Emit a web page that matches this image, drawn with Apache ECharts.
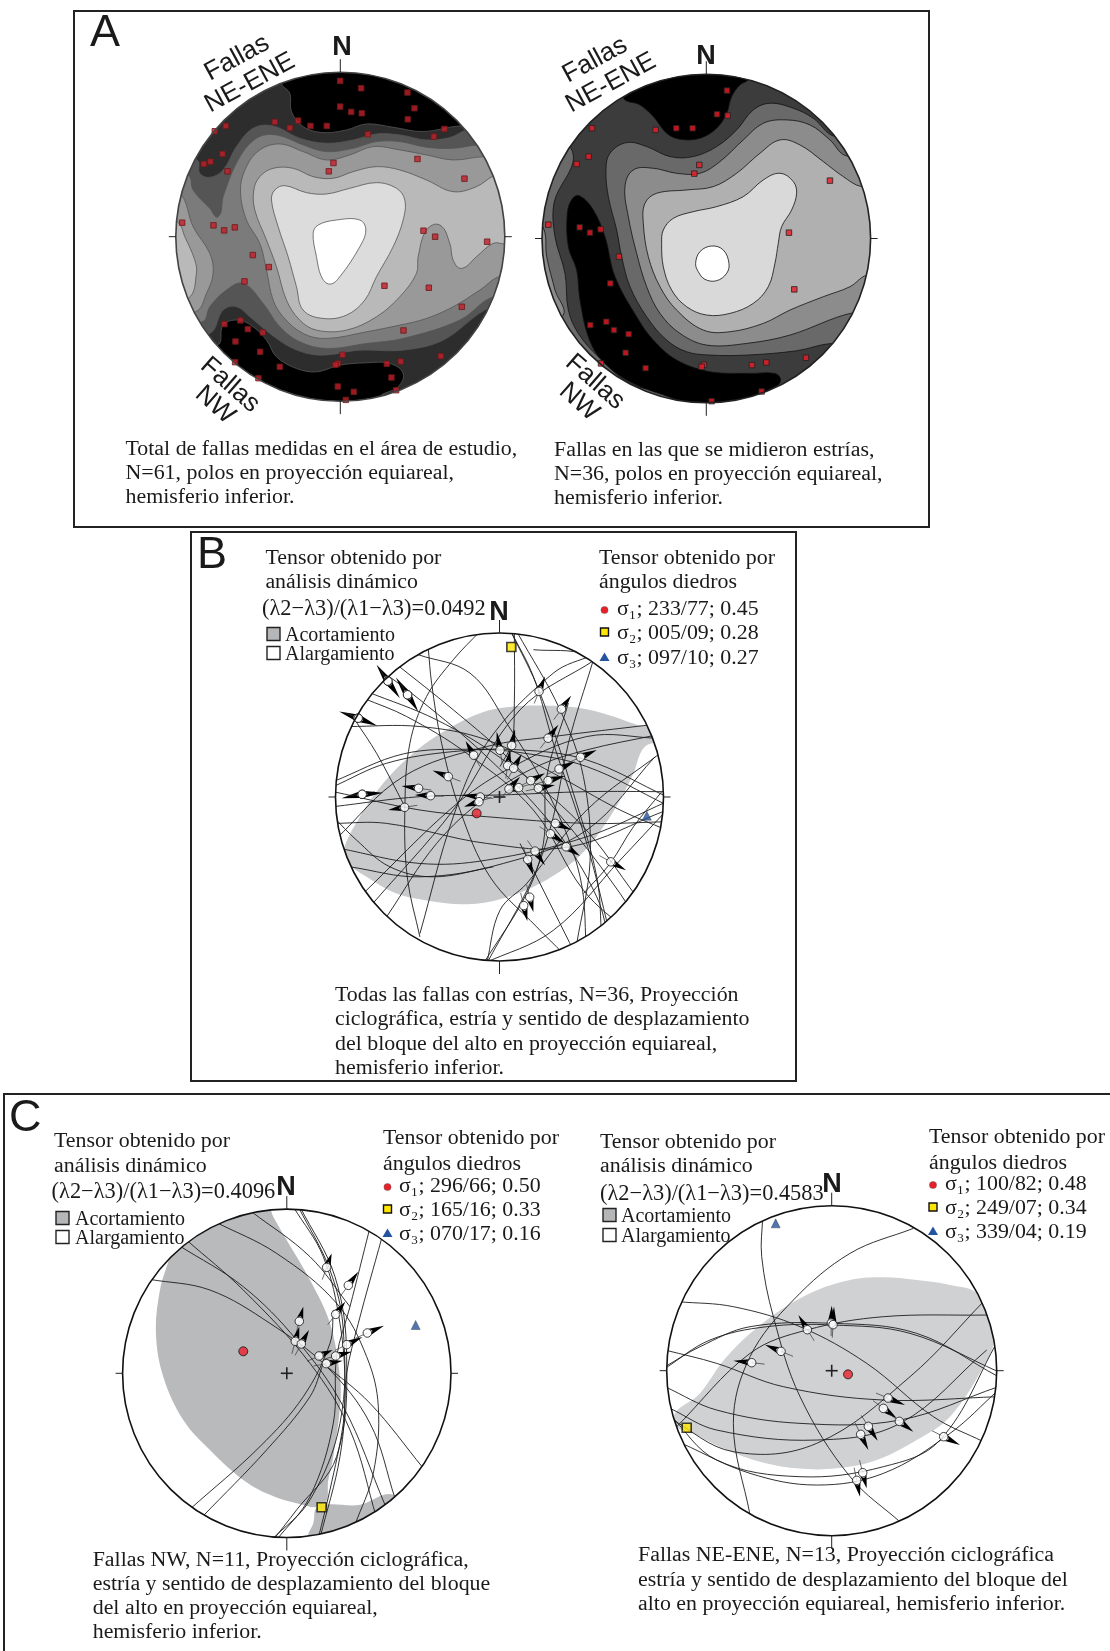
<!DOCTYPE html>
<html>
<head>
<meta charset="utf-8">
<style>html,body{margin:0;padding:0;background:#fff}#chart{width:1110px;height:1651px}</style>
<script src="https://cdn.jsdelivr.net/npm/echarts@6/dist/echarts.min.js"></script>
</head>
<body>
<div id="chart"></div>
<script>

// ---- net A1, total de fallas
const a1Black = '#000000'
const a1Bands = [
  ['#2d2d2d', [[365,130],[390,160],[395,215],[430,260],[490,278],[560,270],[620,252],[700,262],[790,275],[900,258],[1100,258],[1100,1000],[800,1150],[665,1075],[715,1040],[730,1000],[690,970],[620,968],[540,975],[470,995],[410,985],[350,950],[320,900],[280,860],[235,840],[190,855],[172,915],[0,915],[0,0],[365,0]]],
  ['#555555', [[112,360],[120,400],[150,412],[190,390],[230,320],[280,265],[340,258],[420,295],[500,310],[580,300],[650,282],[720,285],[800,300],[870,293],[930,268],[1100,268],[1100,760],[975,810],[850,900],[730,930],[600,930],[480,945],[400,925],[330,880],[270,830],[230,800],[190,810],[150,880],[50,880],[50,360]]],
  ['#7b7b7b', [[85,405],[100,450],[150,505],[175,530],[190,470],[235,360],[290,295],[350,285],[430,315],[500,335],[580,325],[650,305],[720,305],[800,322],[880,325],[955,315],[1100,315],[1100,770],[1000,770],[900,840],[730,895],[620,910],[500,925],[420,905],[360,860],[310,790],[250,730],[200,750],[150,800],[128,845],[30,845],[30,405]]],
  ['#999999', [[62,460],[100,560],[150,640],[160,700],[140,760],[108,815],[20,815],[20,460]]],
  ['#999999', [[242,450],[260,380],[300,330],[360,312],[430,335],[500,360],[570,345],[640,320],[720,330],[800,345],[880,360],[970,350],[1100,350],[1100,708],[1022,708],[960,750],[880,800],[800,835],[720,855],[620,875],[500,895],[430,880],[370,830],[340,780],[320,690],[300,610],[260,540]]],
  ['#b9b9b9', [[52,545],[75,590],[105,660],[110,700],[85,775],[0,775],[0,545]]],
  ['#b9b9b9', [[282,450],[300,410],[340,385],[400,385],[460,410],[520,415],[580,395],[650,380],[720,390],[800,420],[880,455],[950,440],[1010,405],[1100,405],[1100,612],[1035,612],[1000,610],[950,650],[905,685],[880,660],[870,610],[840,555],[800,570],[775,650],[770,700],[720,770],[650,830],[560,870],[470,870],[420,840],[380,780],[350,680],[320,600],[285,510]]],
  ['#dcdcdc', [[335,480],[345,450],[375,437],[440,458],[500,462],[570,445],[650,428],[710,445],[735,480],[730,540],[700,620],[650,710],[615,780],[560,825],[490,835],[430,810],[410,740],[385,650],[355,560]]],
  ['#ffffff', [[460,580],[475,555],[530,540],[600,540],[618,570],[600,620],[540,710],[510,732],[485,710],[470,650]]]
]
const a1Poles = [[541,123],[604,145],[743,158],[541,200],[574,216],[606,220],[764,205],[744,238],[345,246],[415,242],[390,264],[452,258],[501,258],[198,258],[165,274],[624,283],[854,267],[822,290],[188,342],[152,365],[132,372],[203,394],[521,369],[507,394],[773,357],[914,416],[67,548],[161,556],[193,571],[225,562],[791,572],[826,590],[982,605],[279,645],[327,681],[254,724],[674,737],[807,743],[906,800],[731,871],[194,852],[242,841],[264,867],[309,877],[227,904],[301,935],[226,966],[360,980],[296,1014],[548,944],[534,970],[527,974],[843,948],[723,964],[681,971],[695,1012],[709,1050],[534,1039],[582,1055],[558,1079]]

// ---- net A2, fallas con estrias
const a2Base = '#3c3c3c'
const a2Bands = [
  ['#6a6a6a', [[123,355],[72,520],[75,620],[105,730],[115,840],[145,910],[205,980],[300,1060],[430,1108],[430,1200],[-50,1000],[-50,300]]],
  ['#8c8c8c', [[38,590],[50,680],[75,780],[96,860],[0,860],[0,590]]],
  ['#000000', [[280,203],[330,225],[370,260],[410,310],[450,328],[510,325],[560,295],[590,250],[605,200],[630,165],[655,148],[655,100],[280,100]]],
  ['#000000', [[150,498],[190,540],[225,620],[255,740],[320,860],[370,930],[440,990],[540,1025],[660,1030],[735,1030],[752,1050],[735,1072],[680,1098],[560,1150],[430,1105],[300,1055],[215,990],[175,920],[150,810],[140,720],[115,650],[112,550],[128,505]]],
  ['#696969', [[916,320],[850,265],[790,235],[720,220],[670,240],[620,300],[560,350],[490,380],[420,380],[350,350],[290,338],[240,370],[228,420],[235,500],[260,600],[275,680],[300,770],[350,860],[410,930],[470,965],[540,975],[650,975],[800,962],[905,940],[1100,940],[1100,320]]],
  ['#8c8c8c', [[950,378],[900,330],[840,285],[770,270],[700,280],[640,330],[570,395],[510,430],[440,430],[370,415],[310,420],[285,470],[295,560],[320,670],[350,770],[390,850],[450,910],[530,945],[650,940],[780,915],[970,848],[1100,848],[1100,378]]],
  ['#b0b0b0', [[995,470],[940,440],[880,395],[810,345],[750,330],[690,370],[620,430],[550,470],[470,480],[380,490],[345,520],[340,580],[355,680],[390,770],[440,840],[520,900],[600,905],[700,880],[780,840],[880,800],[960,770],[1012,735],[1100,735],[1100,470]]],
  ['#d9d9d9', [[395,640],[400,600],[430,565],[490,545],[560,530],[640,500],[700,450],[750,430],[790,455],[800,490],[785,540],[755,590],[745,640],[735,700],[715,770],[670,820],[600,850],[530,855],[470,830],[425,780],[400,710]]],
  ['#ffffff', [[497,700],[510,665],[545,648],[580,660],[597,700],[590,730],[560,752],[525,748],[505,725]]]
]
const a2Poles = [[591,182],[561,253],[593,257],[439,295],[488,295],[377,300],[186,295],[176,380],[140,402],[508,405],[493,431],[900,452],[55,584],[149,592],[180,608],[212,598],[777,608],[267,680],[241,760],[793,778],[181,885],[229,875],[252,900],[296,912],[287,968],[213,1000],[347,1014],[522,1004],[515,1010],[666,1005],[709,997],[828,983],[695,1084],[545,1113]]

// ---- net B
const bShade = [[70,725],[120,620],[190,520],[280,430],[380,360],[480,310],[580,290],[700,288],[800,298],[880,320],[950,345],[1060,375],[975,410],[940,490],[900,570],[850,650],[800,715],[740,770],[640,830],[530,870],[430,882],[330,872],[230,850],[140,800],[85,760]]
const bArcs = [
  [[583,60],[583,280],[575,400],[540,470]],
  [[325,115],[335,220],[365,400],[420,600],[510,800],[650,950],[730,1030]],
  [[480,65],[400,150],[320,260],[270,400],[255,590],[262,800],[300,980]],
  [[160,165],[300,270],[500,440],[700,650],[830,860],[870,1010]],
  [[225,160],[400,300],[560,440],[740,640],[900,850],[960,950]],
  [[140,245],[350,330],[550,450],[780,640],[950,860]],
  [[85,350],[300,350],[500,390],[700,490],[900,600],[1040,660]],
  [[40,530],[200,460],[400,425],[600,420],[800,450],[1040,560]],
  [[40,515],[250,432],[450,418],[600,428],[800,470],[1040,585]],
  [[40,590],[300,560],[540,555],[800,545],[1040,545]],
  [[40,545],[300,600],[500,620],[800,640],[1040,635]],
  [[40,640],[200,640],[500,700],[750,710],[1040,600]],
  [[60,715],[300,760],[500,750],[800,680],[1040,575]],
  [[90,770],[300,800],[550,760],[800,660],[1005,440]],
  [[130,850],[400,590],[560,480],[800,380],[1010,385]],
  [[45,690],[250,500],[500,410],[700,380],[990,345]],
  [[200,920],[350,700],[500,560],[650,470],[800,420],[1010,375]],
  [[150,890],[400,600],[600,300],[825,150]],
  [[300,970],[400,620],[500,400],[700,190],[820,135]],
  [[570,60],[640,200],[700,400],[800,700],[880,1015]],
  [[570,60],[660,250],[760,550],[830,800],[845,985]],
  [[590,65],[720,300],[790,500],[810,750],[770,1000]],
  [[745,280],[680,500],[670,700],[620,850],[490,1060]],
  [[820,150],[745,400],[700,620],[640,800],[500,1060]],
  [[500,1060],[540,900],[620,820],[800,600],[1020,430]],
  [[490,1060],[700,960],[900,750],[1040,600]],
  [[600,700],[700,900],[765,1030]],
  [[1025,545],[940,650],[870,760],[790,850]],
  [[105,330],[170,430],[255,590]],
  [[295,135],[450,190],[560,340],[690,560],[780,800],[800,1045]],
  [[130,265],[260,320],[440,430],[640,600],[790,840],[930,970]],
  [[40,620],[110,690],[210,770],[340,800],[520,770]],
  [[640,120],[800,135],[900,210]]
]
const bFaults = [[204,214,170,165],[204,214,240,265],[263,255,228,203],[263,255,295,305],[115,325,58,305],[115,325,172,348],[127,553,65,565],[127,553,190,548],[254,592,205,600],[296,535,245,528],[332,557,285,555],[385,500,338,482],[461,436,437,393],[481,561,425,555],[477,575,432,590],[540,421,530,365],[575,407,585,358],[563,467,570,420],[581,475,605,432],[684,385,715,345],[657,245,675,200],[724,298,753,258],[781,442,830,420],[717,477,765,455],[684,512,735,498],[655,535,705,525],[632,512,675,490],[596,533,555,545],[567,537,600,500],[706,640,755,660],[691,671,735,700],[738,710,780,738],[645,723,675,765],[623,748,640,795],[872,755,918,780],[629,861,640,905],[611,886,622,932]]
const bSigma = [[470,610],[574,112],[980,617]]

// ---- net C1, fallas NW
const c1Shade = [[460,20],[490,80],[530,150],[600,270],[660,400],[690,560],[690,650],[670,800],[655,870],[640,945],[560,940],[480,915],[400,870],[300,780],[220,690],[160,560],[138,430],[150,300],[178,205],[195,140],[100,20]]
const c1Shade2 = [[625,950],[750,945],[850,915],[920,1000],[600,1100],[592,1045],[610,1000]]
const c1Arcs = [
  [[120,268],[300,300],[480,400],[650,530],[780,700],[855,925]],
  [[205,165],[400,290],[560,450],[700,650],[825,945]],
  [[230,150],[400,300],[600,520],[720,720],[800,985]],
  [[315,95],[500,190],[680,340],[770,500],[805,650],[790,850],[735,1005]],
  [[425,65],[600,200],[720,350]],
  [[640,520],[780,640],[940,835]],
  [[550,50],[640,200],[690,400],[705,600],[690,800],[630,1045]],
  [[565,50],[660,240],[700,420],[690,700],[600,930],[485,1050]],
  [[570,50],[675,260],[710,500],[680,800],[560,960],[490,1050]],
  [[778,120],[720,350],[680,500],[670,700],[600,920],[500,1050]],
  [[815,145],[745,400],[710,550],[700,700],[660,900],[625,1045]],
  [[240,958],[450,770],[580,620],[660,460],[670,360]],
  [[278,980],[470,780],[600,620],[640,520]]
]
const c1Faults = [[650,232,665,190],[715,286,745,245],[677,373,706,335],[568,394,580,350],[556,454,568,410],[574,462,597,420],[772,429,822,407],[710,464,757,441],[677,498,725,485],[627,498,668,480],[649,521,698,512]]
const c1Sigma = [[400,484],[635,952],[917,405]]

// ---- net C2, fallas NE-ENE
const c2Shade = [[70,690],[150,610],[230,500],[350,390],[480,310],[600,270],[700,262],[800,270],[900,285],[985,315],[1030,450],[1000,530],[900,680],[800,750],[680,810],[560,835],[440,835],[330,815],[230,780],[150,740]]
const c2Arcs = [
  [[338,80],[335,200],[370,380],[450,620],[600,860],[755,1000]],
  [[790,115],[600,190],[430,330],[300,500],[250,700],[300,975]],
  [[85,335],[250,350],[450,410],[650,520],[850,680],[1000,755]],
  [[45,480],[200,520],[400,590],[700,630],[1045,620]],
  [[45,590],[200,660],[450,700],[750,690],[1045,590]],
  [[45,530],[150,470],[300,410],[550,400],[800,430],[1045,560]],
  [[45,535],[180,450],[350,410],[550,405],[780,430],[1045,545]],
  [[60,655],[200,720],[500,750],[750,700],[1010,480]],
  [[60,685],[250,785],[500,760],[780,560],[1005,330]],
  [[80,710],[300,490],[470,420],[700,380],[1010,375]],
  [[95,760],[300,850],[500,885],[700,850],[900,730],[1045,600]],
  [[60,675],[200,810],[450,860],[700,830],[870,750],[1045,450]]
]
const c2Faults = [[305,518,250,512],[393,484,345,464],[472,419,445,375],[544,399,545,347],[549,404,552,350],[714,624,765,645],[700,655,740,685],[748,694,790,725],[655,709,683,752],[632,733,655,780],[881,740,930,765],[638,848,650,895],[620,871,630,920]]
const c2Sigma = [[594,553],[110,713],[377,100]]

// ---- texts
const captionA1 = ['Total de fallas medidas en el área de estudio,', 'N=61, polos en proyección equiareal,', 'hemisferio inferior.']
const captionA2 = ['Fallas en las que se midieron estrías,', 'N=36, polos en proyección equiareal,', 'hemisferio inferior.']
const captionB = ['Todas las fallas con estrías, N=36, Proyección', 'ciclográfica, estría y sentido de desplazamiento', 'del bloque del alto en proyección equiareal,', 'hemisferio inferior.']
const captionC1 = ['Fallas NW, N=11, Proyección ciclográfica,', 'estría y sentido de desplazamiento del bloque', 'del alto en proyección equiareal,', 'hemisferio inferior.']
const captionC2 = ['Fallas NE-ENE, N=13, Proyección ciclográfica', 'estría y sentido de desplazamiento del bloque del', 'alto en proyección equiareal, hemisferio inferior.']
const tensorDinamico = ['Tensor obtenido por', 'análisis dinámico']
const tensorDiedros = ['Tensor obtenido por', 'ángulos diedros']
const ratioB = '(λ2−λ3)/(λ1−λ3)=0.0492'
const ratioC1 = '(λ2−λ3)/(λ1−λ3)=0.4096'
const ratioC2 = '(λ2−λ3)/(λ1−λ3)=0.4583'
const sigmaB = ['σ₁; 233/77; 0.45', 'σ₂; 005/09; 0.28', 'σ₃; 097/10; 0.27']
const sigmaC1 = ['σ₁; 296/66; 0.50', 'σ₂; 165/16; 0.33', 'σ₃; 070/17; 0.16']
const sigmaC2 = ['σ₁; 100/82; 0.48', 'σ₂; 249/07; 0.34', 'σ₃; 339/04; 0.19']

// ---- layout of the nets: pixel box on the page + reading box of the data
const nets = [
  { cx: 340.3, cy: 236.7, r: 164.5, x: [48, 1035], y: [97, 1083] },
  { cx: 706.3, cy: 238.5, r: 164.3, x: [36, 1022], y: [133, 1118] },
  { cx: 499.5, cy: 797, r: 164, x: [47, 1030], y: [70, 1052] },
  { cx: 286.8, cy: 1373.3, r: 164.2, x: [38, 1023], y: [57, 1043] },
  { cx: 831.7, cy: 1370.7, r: 165, x: [50, 1040], y: [47, 1037] }
]
const grid = nets.map(n => ({ left: n.cx - n.r, top: n.cy - n.r, width: 2 * n.r, height: 2 * n.r }))
const xAxis = nets.map((n, i) => ({ type: 'value', gridIndex: i, min: n.x[0], max: n.x[1], show: false }))
const yAxis = nets.map((n, i) => ({ type: 'value', gridIndex: i, min: n.y[0], max: n.y[1], inverse: true, show: false }))

function netFrame(api, i) {
  const n = nets[i]
  const a = api.coord([n.x[0], n.y[0]])
  const b = api.coord([n.x[1], n.y[1]])
  return { cx: (a[0] + b[0]) / 2, cy: (a[1] + b[1]) / 2, r: (b[0] - a[0]) / 2 }
}

// smooth svg path through the points, control arms follow the chord length
function curve(p, closed) {
  const n = p.length
  const at = k => closed ? p[(k + n) % n] : p[Math.max(0, Math.min(n - 1, k))]
  const unit = (a, b) => { const d = Math.hypot(b[0] - a[0], b[1] - a[1]) || 1; return [(b[0] - a[0]) / d, (b[1] - a[1]) / d] }
  let s = 'M' + p[0][0] + ' ' + p[0][1]
  const last = closed ? n : n - 1
  for (let k = 0; k < last; k++) {
    const p1 = at(k), p2 = at(k + 1)
    const t1 = unit(at(k - 1), p2), t2 = unit(p1, at(k + 2))
    const d = Math.hypot(p2[0] - p1[0], p2[1] - p1[1]) * 0.36
    s += 'C' + (p1[0] + t1[0] * d) + ' ' + (p1[1] + t1[1] * d) + ' ' + (p2[0] - t2[0] * d) + ' ' + (p2[1] - t2[1] * d) + ' ' + p2[0] + ' ' + p2[1]
  }
  return s + (closed ? 'Z' : '')
}

// filled region, clipped on the net circle
function region(i, pts, fill, stroke, z) {
  return {
    type: 'custom', xAxisIndex: i, yAxisIndex: i, z: z, silent: true, data: pts,
    renderItem(params, api) {
      if (params.dataIndex !== 0) return
      return {
        type: 'path',
        shape: { pathData: curve(pts.map(p => api.coord(p)), true) },
        style: { fill: fill, stroke: stroke, lineWidth: stroke ? 0.8 : 0 },
        clipPath: { type: 'circle', shape: netFrame(api, i) }
      }
    }
  }
}

// disc below, ticks and outline on top
function disc(i, fill) {
  const n = nets[i]
  return {
    type: 'custom', xAxisIndex: i, yAxisIndex: i, z: 1, silent: true, data: [[n.x[0], n.y[0]]],
    renderItem(params, api) {
      const f = netFrame(api, i)
      return { type: 'circle', shape: f, style: { fill: fill } }
    }
  }
}
function outline(i, cross, col) {
  const n = nets[i]
  return {
    type: 'custom', xAxisIndex: i, yAxisIndex: i, z: 20, silent: true, data: [[n.x[0], n.y[0]]],
    renderItem(params, api) {
      const f = netFrame(api, i)
      const seg = (x1, y1, x2, y2, w) => ({ type: 'line', shape: { x1, y1, x2, y2 }, style: { stroke: '#222', lineWidth: w || 1 } })
      const kids = [
        { type: 'circle', shape: f, style: { fill: 'none', stroke: col, lineWidth: 1.6 } },
        seg(f.cx, f.cy - f.r - 13, f.cx, f.cy - f.r),
        seg(f.cx, f.cy + f.r, f.cx, f.cy + f.r + 13),
        seg(f.cx - f.r - 7, f.cy, f.cx - f.r, f.cy),
        seg(f.cx + f.r, f.cy, f.cx + f.r + 7, f.cy)
      ]
      if (cross) {
        kids.push(seg(f.cx - 6, f.cy, f.cx + 6, f.cy, 1.6), seg(f.cx, f.cy - 6, f.cx, f.cy + 6, 1.6))
      }
      return { type: 'group', children: kids }
    }
  }
}

// great circles, clipped on the net too
function arcSeries(i, arcs) {
  return arcs.map(a => ({
    type: 'custom', xAxisIndex: i, yAxisIndex: i, z: 5, silent: true, data: a,
    renderItem(params, api) {
      if (params.dataIndex !== 0) return
      return {
        type: 'path',
        shape: { pathData: curve(a.map(p => api.coord(p)), false) },
        style: { fill: 'none', stroke: '#1d1d1d', lineWidth: 0.9 },
        clipPath: { type: 'circle', shape: netFrame(api, i) }
      }
    }
  }))
}

function poleSeries(i, pts, col, border) {
  return {
    type: 'scatter', xAxisIndex: i, yAxisIndex: i, z: 10, data: pts, symbol: 'rect', symbolSize: 5.5, silent: true,
    itemStyle: { color: col, borderColor: border, borderWidth: 1 }
  }
}

// striae: tail line + black arrow + open circle
function faultSeries(i, rows) {
  return [
    {
      type: 'custom', xAxisIndex: i, yAxisIndex: i, z: 8, silent: true, data: rows,
      renderItem(params, api) {
        const c = api.coord([api.value(0), api.value(1)])
        const t = api.coord([api.value(2), api.value(3)])
        const dx = t[0] - c[0], dy = t[1] - c[1]
        const len = Math.hypot(dx, dy) || 1
        const ux = dx / len, uy = dy / len
        const px = -uy, py = ux
        return {
          type: 'group',
          children: [
            { type: 'line', shape: { x1: c[0], y1: c[1], x2: c[0] - ux * 13, y2: c[1] - uy * 13 }, style: { stroke: '#333', lineWidth: 0.7 } },
            {
              type: 'polygon',
              shape: { points: [t, [c[0] + ux * 3 + px * 3.2, c[1] + uy * 3 + py * 3.2], [c[0] + ux * 5.5, c[1] + uy * 5.5], [c[0] + ux * 3 - px * 3.2, c[1] + uy * 3 - py * 3.2]] },
              style: { fill: '#000' }
            }
          ]
        }
      }
    },
    {
      type: 'scatter', xAxisIndex: i, yAxisIndex: i, z: 9, silent: true, data: rows.map(r => [r[0], r[1]]), symbolSize: 8.5,
      itemStyle: { color: '#fff', borderColor: '#111', borderWidth: 1 }
    }
  ]
}

function sigmaSeries(i, pts) {
  const look = [
    ['circle', 9, '#e8202a', 1],
    ['rect', 9, '#ffe600', 1.6],
    ['triangle', 9, '#24549f', 0.4]
  ]
  return pts.map((p, k) => ({
    type: 'scatter', xAxisIndex: i, yAxisIndex: i, z: 12, silent: true, data: [p], symbol: look[k][0], symbolSize: look[k][1],
    itemStyle: { color: look[k][2], borderColor: '#111', borderWidth: look[k][3] }
  }))
}

const series = []
// A1
series.push(disc(0, a1Black))
a1Bands.forEach(b => series.push(region(0, b[1], b[0], '#555', 2)))
series.push(poleSeries(0, a1Poles, '#c21f2b', '#6b1a1a'), outline(0, false, '#444'))
// A2
series.push(disc(1, a2Base))
a2Bands.forEach(b => series.push(region(1, b[1], b[0], '#111', 2)))
series.push(poleSeries(1, a2Poles, '#ee1c25', '#222'), outline(1, false, '#222'))
// B
series.push(disc(2, '#fff'), region(2, bShade, '#c9cacc', null, 2))
series.push(...arcSeries(2, bArcs), ...faultSeries(2, bFaults), ...sigmaSeries(2, bSigma), outline(2, true, '#111'))
// C1
series.push(disc(3, '#fff'), region(3, c1Shade, '#b9babc', null, 2), region(3, c1Shade2, '#b9babc', null, 2))
series.push(...arcSeries(3, c1Arcs), ...faultSeries(3, c1Faults), ...sigmaSeries(3, c1Sigma), outline(3, true, '#111'))
// C2
series.push(disc(4, '#fff'), region(4, c2Shade, '#d0d1d3', null, 2))
series.push(...arcSeries(4, c2Arcs), ...faultSeries(4, c2Faults), ...sigmaSeries(4, c2Sigma), outline(4, true, '#111'))

// ---- page furniture
const SERIF = '"Liberation Serif", serif'
const SANS = '"Liberation Sans", sans-serif'
const BODY = 21.9
const g = []
function frame(x, y, w, h) {
  g.push({ type: 'rect', shape: { x, y, width: w, height: h }, style: { fill: 'none', stroke: '#222', lineWidth: 2 }, z: 30 })
}
function txt(x, y, s, size, font, weight, rot, align) {
  g.push({
    type: 'text', x, y, rotation: rot || 0, z: 40,
    style: { text: s, fontSize: size, fontFamily: font || SERIF, fontWeight: weight || 'normal', fill: '#1a1a1a', align: align || 'left', verticalAlign: 'middle' }
  })
}
function lines(x, ys, arr) {
  arr.forEach((s, i) => txt(x, ys[i] + 1.5, s, BODY))
}
function swatch(x, y, fill) {
  g.push({ type: 'rect', shape: { x, y: y - 6.5, width: 13, height: 13 }, style: { fill, stroke: '#222', lineWidth: 1.4 }, z: 40 })
}
function sigmaKeys(x, ys) {
  g.push({ type: 'circle', shape: { cx: x, cy: ys[0], r: 3.6 }, style: { fill: '#e8202a', stroke: '#555', lineWidth: 0.4 }, z: 40 })
  g.push({ type: 'rect', shape: { x: x - 4, y: ys[1] - 4, width: 8, height: 8 }, style: { fill: '#ffe600', stroke: '#111', lineWidth: 1.4 }, z: 40 })
  g.push({ type: 'polygon', shape: { points: [[x, ys[2] - 4.5], [x + 5, ys[2] + 4], [x - 5, ys[2] + 4]] }, style: { fill: '#24549f' }, z: 40 })
}
function north(x, y) { txt(x, y, 'N', 27, SANS, 'bold', 0, 'center') }

frame(74, 11, 855, 516)
frame(191, 532, 605, 549)
frame(4, 1094, 1110, 600)

txt(90, 34, 'A', 45, SANS, 'normal')
txt(197, 556, 'B', 45, SANS, 'normal')
txt(9, 1119, 'C', 45, SANS, 'normal')

north(342, 48)
north(706, 57)
north(499, 613)
north(286, 1188)
north(832, 1185)

// rotated fault group labels
txt(237, 58, 'Fallas', 26, SANS, 'normal', 0.5, 'center')
txt(250, 83, 'NE-ENE', 26, SANS, 'normal', 0.5, 'center')
txt(595, 60, 'Fallas', 26, SANS, 'normal', 0.5, 'center')
txt(611, 83, 'NE-ENE', 26, SANS, 'normal', 0.5, 'center')
txt(230, 385, 'Fallas', 26, SANS, 'normal', -0.72, 'center')
txt(215, 405, 'NW', 26, SANS, 'normal', -0.72, 'center')
txt(595, 382, 'Fallas', 26, SANS, 'normal', -0.72, 'center')
txt(579, 402, 'NW', 26, SANS, 'normal', -0.72, 'center')

lines(125.5, [447.5, 472, 496], captionA1)
lines(554, [449, 473, 497], captionA2)
lines(335, [994, 1018, 1043, 1067], captionB)
lines(92.7, [1558.6, 1583, 1607, 1631], captionC1)
lines(638, [1554, 1579, 1603], captionC2)

// B header
lines(265.4, [557, 581], tensorDinamico)
txt(262, 609, ratioB, 22.4)
swatch(267, 634, '#b5b6b8')
swatch(267, 653, '#fff')
txt(285, 636, 'Acortamiento', 20)
txt(285, 655, 'Alargamiento', 20)
lines(599, [557, 581], tensorDiedros)
lines(617, [608, 632, 657], sigmaB)
sigmaKeys(604.5, [610, 632, 657])

// C1 header
lines(54, [1139.5, 1165], tensorDinamico)
txt(51.6, 1192.5, ratioC1, 22.4)
swatch(56, 1218, '#b5b6b8')
swatch(56, 1237, '#fff')
txt(75, 1220, 'Acortamiento', 20)
txt(75, 1239, 'Alargamiento', 20)
lines(383, [1137, 1163], tensorDiedros)
lines(399, [1185, 1209, 1233], sigmaC1)
sigmaKeys(387.5, [1187, 1209, 1233])

// C2 header
lines(600, [1140.5, 1165], tensorDinamico)
txt(600, 1194.5, ratioC2, 22.4)
swatch(603, 1215, '#b5b6b8')
swatch(603, 1235, '#fff')
txt(621, 1217, 'Acortamiento', 20)
txt(621, 1237, 'Alargamiento', 20)
lines(929, [1136, 1161.6], tensorDiedros)
lines(945, [1183, 1207, 1231], sigmaC2)
sigmaKeys(933, [1185, 1207, 1231])

const chart = echarts.init(document.getElementById('chart'), null, { renderer: 'canvas' })
chart.setOption({
  animation: false,
  backgroundColor: '#fff',
  tooltip: { show: false },
  grid, xAxis, yAxis, series,
  graphic: { elements: g }
})
</script>
</body>
</html>
